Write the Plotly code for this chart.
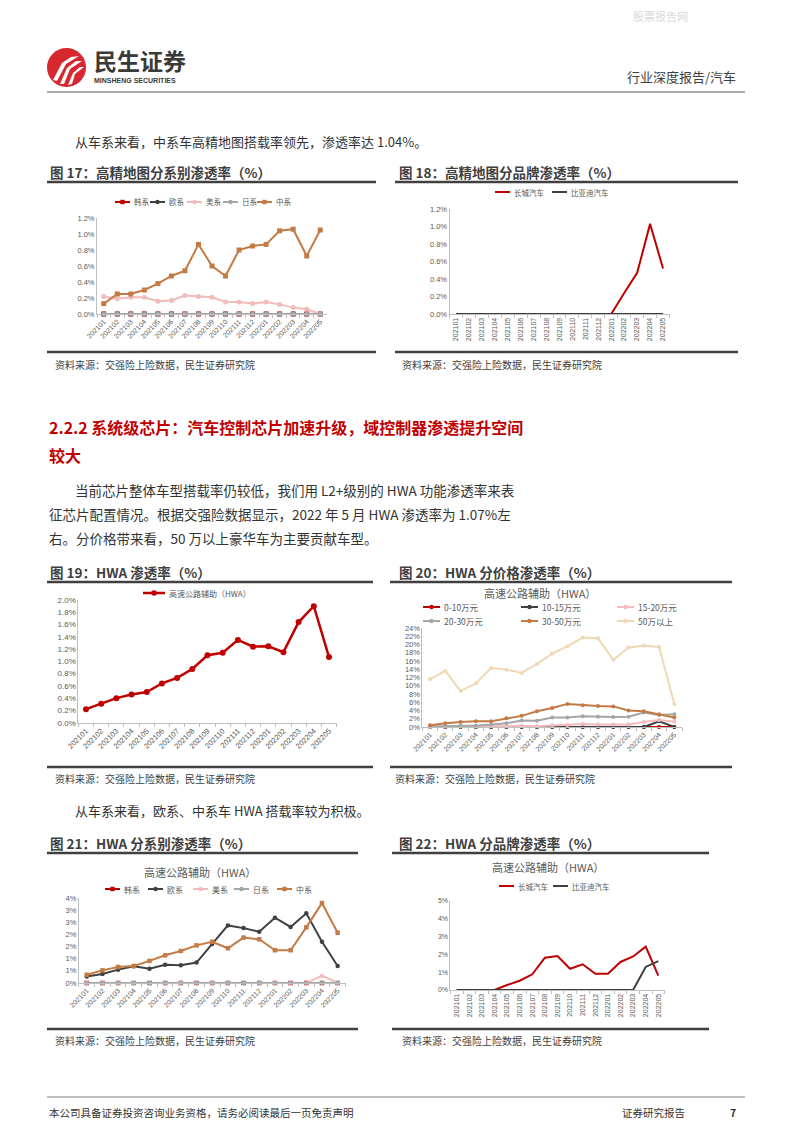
import plotly.graph_objects as go

W, H = 794, 1123
OFF = 8  # page body margin compensation


def X(px):
    return (px - OFF) / W


def Y(py):
    return 1 - (py - OFF) / H


months = ["202101", "202102", "202103", "202104", "202105", "202106", "202107", "202108",
          "202109", "202110", "202111", "202112", "202201", "202202", "202203", "202204", "202205"]

# ---- Fig 17: HD map penetration by origin (%)
hd_kr = [0] * 17
hd_eu = [0] * 17
hd_us = [0.22, 0.19, 0.21, 0.21, 0.16, 0.17, 0.23, 0.22, 0.21, 0.15, 0.15, 0.13, 0.15, 0.12, 0.08, 0.06, 0.0]
hd_jp = [0] * 17
hd_cn = [0.13, 0.25, 0.25, 0.30, 0.38, 0.475, 0.54, 0.87, 0.60, 0.475, 0.80, 0.85, 0.87, 1.04, 1.06, 0.725, 1.05]

# ---- Fig 18: HD map penetration by brand (%)
hd_gw = [0, 0, 0, 0, 0, 0, 0, 0, 0, 0, 0, 0, 0, 0.24, 0.47, 1.03, 0.52]
hd_byd = [0] * 17

# ---- Fig 19: HWA penetration (%)
hwa_total = [0.22, 0.31, 0.40, 0.46, 0.50, 0.64, 0.73, 0.875, 1.10, 1.14, 1.35, 1.24, 1.245, 1.15, 1.64, 1.90, 1.07]

# ---- Fig 20: HWA penetration by price band (%)
pb_0_10 = [0] * 17
pb_10_15 = [0, 0, 0, 0, 0, 0, 0, 0, 0, 0, 0, 0, 0, 0, 0, 1.4, 0]
pb_15_20 = [0.0, 0.1, 0.1, 0.1, 0.2, 0.2, 0.3, 0.2, 0.4, 0.5, 0.7, 0.6, 0.6, 0.6, 1.2, 1.7, 1.3]
pb_20_30 = [0.15, 0.3, 0.3, 0.3, 0.6, 0.9, 1.6, 1.5, 2.3, 2.3, 2.6, 2.5, 2.4, 2.5, 3.5, 2.9, 3.1]
pb_30_50 = [0.4, 0.9, 1.2, 1.4, 1.4, 2.1, 2.7, 3.8, 4.6, 5.6, 5.3, 5.1, 5.0, 4.0, 3.8, 3.1, 2.3]
pb_50p = [11.6, 13.6, 8.7, 10.6, 14.3, 13.9, 13.1, 15.3, 17.8, 19.6, 21.7, 21.5, 16.3, 19.3, 19.7, 19.4, 5.6]

# ---- Fig 21: HWA penetration by origin (%)
hwa_kr = [0] * 17
hwa_eu = [0.27, 0.37, 0.55, 0.69, 0.59, 0.75, 0.73, 0.84, 1.61, 2.37, 2.26, 2.11, 2.69, 2.31, 2.87, 1.70, 0.70]
hwa_us = [0, 0, 0, 0, 0, 0, 0, 0, 0, 0, 0, 0, 0, 0, 0, 0.30, 0]
hwa_jp = [0] * 17
hwa_cn = [0.34, 0.52, 0.66, 0.70, 0.91, 1.14, 1.32, 1.55, 1.70, 1.43, 1.87, 1.80, 1.35, 1.35, 2.29, 3.29, 2.07]

# ---- Fig 22: HWA penetration by brand (%)
hwa_gw = [0, 0, 0, 0, 0.28, 0.52, 0.88, 1.81, 1.90, 1.19, 1.44, 0.91, 0.91, 1.57, 1.88, 2.43, 0.80]
hwa_byd = [0, 0, 0, 0, 0, 0, 0, 0, 0, 0, 0, 0, 0, 0, 0, 1.29, 1.62]

ticks21 = [0, 0.5, 1.0, 1.5, 2.0, 2.5, 3.0, 3.5]
ticktext21 = ["0%", "1%", "1%", "2%", "2%", "3%", "3%", "4%"]

# colours
RED = "#c00000"
DARK = "#404040"
PINK = "#f2bcbc"
GREY = "#a6a6a6"
BROWN = "#c47a44"
BEIGE = "#efd9b4"

CJK = "Noto Sans CJK SC, Liberation Sans, sans-serif"
LAT = "Liberation Sans, Noto Sans CJK SC, sans-serif"

fig = go.Figure()
shapes = []
annots = []


def txt(x, y, s, size, color="#404040", bold=False, xanchor="left", family=CJK):
    annots.append(dict(x=X(x), y=Y(y), xref="paper", yref="paper", text=s, showarrow=False,
                       xanchor=xanchor, yanchor="middle",
                       font=dict(size=size, color=color, family=family,
                                 weight="bold" if bold else "normal")))


def hline(x0, x1, y, color, width):
    shapes.append(dict(type="line", xref="paper", yref="paper", x0=X(x0), x1=X(x1), y0=Y(y), y1=Y(y),
                       line=dict(color=color, width=width)))


def marker_shape(cx, cy, r, color, sym):
    shapes.append(dict(type="circle" if sym == "circle" else "rect", xref="paper", yref="paper",
                       x0=X(cx - r), x1=X(cx + r), y0=Y(cy + r), y1=Y(cy - r),
                       fillcolor=color, line=dict(width=0)))


def leg(x0, y, color, label, sym=None, L=15, fs=7.5, lw=2, r=2.2):
    hline(x0, x0 + L, y, color, lw)
    if sym:
        marker_shape(x0 + L / 2, y, r, color, sym)
    txt(x0 + L + 2, y, label, fs, "#595959")


axis_layout = {}


def add_axes(n, x0, x1, ybot, ytop, ymax, tickangle, yfmt=None, dtick=None, tickvals=None,
             ticktext=None, ytfs=7.5, xtfs=7):
    sx = "" if n == 1 else str(n)
    axis_layout["xaxis" + sx] = dict(
        domain=[X(x0), X(x1)], type="category", range=[-0.5, 16.5], anchor="y" + sx,
        showline=True, linecolor="#bfbfbf", linewidth=1, ticks="outside", tickson="boundaries",
        ticklen=3, tickcolor="#bfbfbf", tickangle=tickangle, showgrid=False, zeroline=False,
        automargin=False,
        tickfont=dict(size=xtfs, color="#595959", family=LAT), fixedrange=True)
    ya = dict(domain=[Y(ybot), Y(ytop)], range=[0, ymax], anchor="x" + sx, showline=True,
              linecolor="#bfbfbf", linewidth=1, ticks="", showgrid=False, zeroline=False,
              automargin=False,
              tickfont=dict(size=ytfs, color="#595959", family=LAT), fixedrange=True)
    if tickvals is not None:
        ya.update(tickmode="array", tickvals=tickvals, ticktext=ticktext)
    else:
        ya.update(dtick=dtick, tickformat=yfmt, ticksuffix="%")
    axis_layout["yaxis" + sx] = ya
    return "x" + sx, "y" + sx


def series(ax, vals, color, width=2, sym=None, msize=5):
    xa, ya = ax
    fig.add_trace(go.Scatter(
        x=months, y=vals, xaxis=xa, yaxis=ya, showlegend=False, cliponaxis=False,
        mode="lines+markers" if sym else "lines",
        line=dict(color=color, width=width),
        marker=dict(symbol=sym or "circle", size=msize, color=color, line=dict(width=0))))


# ---------------- Page header ----------------
txt(660, 16, "股票报告网", 11, "#d9d9d9", xanchor="center")
shapes.append(dict(type="circle", xref="paper", yref="paper", x0=X(47), x1=X(86), y0=Y(87), y1=Y(48),
                   fillcolor="#d7282f", line=dict(width=0)))


def path(points):
    d = "M " + " L ".join(f"{X(a):.5f},{Y(b):.5f}" for a, b in points) + " Z"
    shapes.append(dict(type="path", xref="paper", yref="paper", path=d, fillcolor="white",
                       line=dict(width=0)))


path([(53, 80), (57, 81), (66, 64), (79, 56), (71, 57), (62, 63)])
path([(60, 84), (64, 84), (70, 69), (82, 61), (76, 61), (67, 68)])
path([(68, 85), (72, 84), (75, 74), (84, 67), (80, 67), (73, 73)])
txt(92, 60, "民生证券", 23, "#3a3a3a", bold=True)
txt(92, 80, "MINSHENG SECURITIES", 7, "#3a3a3a", bold=True, family=LAT)
txt(738, 77, "行业深度报告/汽车", 13, "#404040", xanchor="right")
hline(47, 745, 92, "#595959", 1.2)

txt(73, 141, "从车系来看，中系车高精地图搭载率领先，渗透率达 1.04%。", 13, "#333333")

# ---------------- Fig 17 / 18 ----------------
txt(48, 172, "图 17：高精地图分系别渗透率（%）", 13.5, "#404040", bold=True)
txt(397, 172, "图 18：高精地图分品牌渗透率（%）", 13.5, "#404040", bold=True)
hline(47, 376, 182, "#404040", 2.5)
hline(395, 738, 182, "#404040", 2.5)
hline(47, 376, 352, "#404040", 2.5)
hline(395, 738, 352, "#404040", 2.5)
txt(53, 364, "资料来源：交强险上险数据，民生证券研究院", 10, "#404040")
txt(400, 364, "资料来源：交强险上险数据，民生证券研究院", 10, "#404040")

ax17 = add_axes(1, 97, 327, 314, 218, 1.2, -45, yfmt=".1f", dtick=0.2)
series(ax17, hd_kr, RED, 2, "square", 5)
series(ax17, hd_eu, DARK, 2, "circle", 5)
series(ax17, hd_us, PINK, 2, "circle", 5)
series(ax17, hd_jp, GREY, 2, "circle", 5)
series(ax17, hd_cn, BROWN, 2, "square", 5)
leg(115, 202, RED, "韩系", "square")
leg(150, 202, DARK, "欧系", "circle")
leg(187, 202, PINK, "美系", "circle")
leg(223, 202, GREY, "日系", "circle")
leg(257, 202, BROWN, "中系", "square")

ax18 = add_axes(2, 449.5, 669.5, 314, 209, 1.2, -90, yfmt=".1f", dtick=0.2)
series(ax18, hd_gw, RED, 2)
series(ax18, hd_byd, DARK, 2)
leg(495, 192, RED, "长城汽车")
leg(552, 192, DARK, "比亚迪汽车")

# ---------------- Section text ----------------
txt(47, 427, "2.2.2 系统级芯片：汽车控制芯片加速升级，域控制器渗透提升空间", 16, RED, bold=True)
txt(47, 455, "较大", 16, RED, bold=True)
txt(73, 490, "当前芯片整体车型搭载率仍较低，我们用 L2+级别的 HWA 功能渗透率来表", 13.5, "#333333")
txt(47, 514, "征芯片配置情况。根据交强险数据显示，2022 年 5 月 HWA 渗透率为 1.07%左", 13.5, "#333333")
txt(47, 538, "右。分价格带来看，50 万以上豪华车为主要贡献车型。", 13.5, "#333333")

# ---------------- Fig 19 / 20 ----------------
txt(48, 572, "图 19：HWA 渗透率（%）", 13.5, "#404040", bold=True)
txt(397, 572, "图 20：HWA 分价格渗透率（%）", 13.5, "#404040", bold=True)
hline(47, 373, 582, "#404040", 2.5)
hline(390, 732, 582, "#404040", 2.5)
hline(47, 373, 767, "#404040", 2.5)
hline(390, 732, 767, "#404040", 2.5)
txt(53, 778, "资料来源：交强险上险数据，民生证券研究院", 10, "#404040")
txt(393, 778, "资料来源：交强险上险数据，民生证券研究院", 10, "#404040")

ax19 = add_axes(3, 78.4, 336.6, 722.7, 600, 2.0, -45, yfmt=".1f", dtick=0.2, ytfs=8, xtfs=7.5)
series(ax19, hwa_total, RED, 2.5, "circle", 6)
leg(143, 593, RED, "高速公路辅助（HWA）", "circle", L=22, fs=8, lw=2.5, r=2.8)

ax20 = add_axes(4, 422.4, 682, 727, 628, 24, -45, yfmt=".0f", dtick=2, ytfs=7.5, xtfs=7)
series(ax20, pb_0_10, RED, 2, "circle", 4)
series(ax20, pb_10_15, DARK, 2, "circle", 4)
series(ax20, pb_15_20, PINK, 2, "circle", 4)
series(ax20, pb_20_30, GREY, 2, "circle", 4)
series(ax20, pb_30_50, BROWN, 2, "circle", 4)
series(ax20, pb_50p, BEIGE, 2, "circle", 4)
txt(540, 593, "高速公路辅助（HWA）", 11, "#595959", xanchor="center")
leg(423, 607, RED, "0-10万元", "circle", L=17, fs=8.5)
leg(521, 607, DARK, "10-15万元", "circle", L=17, fs=8.5)
leg(617, 607, PINK, "15-20万元", "circle", L=17, fs=8.5)
leg(423, 621, GREY, "20-30万元", "circle", L=17, fs=8.5)
leg(521, 621, BROWN, "30-50万元", "circle", L=17, fs=8.5)
leg(617, 621, BEIGE, "50万以上", "circle", L=17, fs=8.5)

# ---------------- Fig 21 / 22 ----------------
txt(73, 810, "从车系来看，欧系、中系车 HWA 搭载率较为积极。", 13, "#333333")
txt(48, 843, "图 21：HWA 分系别渗透率（%）", 13.5, "#404040", bold=True)
txt(397, 843, "图 22：HWA 分品牌渗透率（%）", 13.5, "#404040", bold=True)
hline(47, 358, 853, "#404040", 2.5)
hline(392, 709, 853, "#404040", 2.5)
hline(47, 358, 1029, "#404040", 2.5)
hline(392, 709, 1029, "#404040", 2.5)
txt(53, 1040, "资料来源：交强险上险数据，民生证券研究院", 10, "#404040")
txt(400, 1040, "资料来源：交强险上险数据，民生证券研究院", 10, "#404040")

ax21 = add_axes(5, 78.9, 345.5, 983, 898, 3.5, -45, tickvals=ticks21, ticktext=ticktext21,
                ytfs=7.5, xtfs=7)
series(ax21, hwa_kr, RED, 2, "square", 4.5)
series(ax21, hwa_eu, DARK, 2, "circle", 4.5)
series(ax21, hwa_us, PINK, 2, "circle", 4.5)
series(ax21, hwa_jp, GREY, 2, "circle", 4.5)
series(ax21, hwa_cn, BROWN, 2, "square", 4.5)
txt(200, 872, "高速公路辅助（HWA）", 11, "#595959", xanchor="center")
leg(105, 889, RED, "韩系", "square", fs=8)
leg(148, 889, DARK, "欧系", "circle", fs=8)
leg(193, 889, PINK, "美系", "circle", fs=8)
leg(234, 889, GREY, "日系", "circle", fs=8)
leg(277, 889, BROWN, "中系", "square", fs=8)

ax22 = add_axes(6, 450.4, 664.6, 990, 900.7, 5, -90, yfmt=".0f", dtick=1, ytfs=7, xtfs=7)
series(ax22, hwa_gw, RED, 2)
series(ax22, hwa_byd, DARK, 2)
txt(548, 867, "高速公路辅助（HWA）", 11, "#595959", xanchor="center")
leg(499, 886, RED, "长城汽车")
leg(553, 886, DARK, "比亚迪汽车")

# ---------------- Footer ----------------
hline(47, 745, 1097, "#7f7f7f", 1)
txt(47, 1112, "本公司具备证券投资咨询业务资格，请务必阅读最后一页免责声明", 10.5, "#333333")
txt(620, 1112, "证券研究报告", 10.5, "#333333")
txt(738, 1112, "7", 10.5, "#333333", bold=True, xanchor="right")

fig.update_layout(width=W, height=H, margin=dict(l=0, r=0, t=0, b=0, autoexpand=False),
                  paper_bgcolor="white", plot_bgcolor="white", showlegend=False,
                  shapes=shapes, annotations=annots, font=dict(family=CJK), **axis_layout)

fig.write_html("out.html")
